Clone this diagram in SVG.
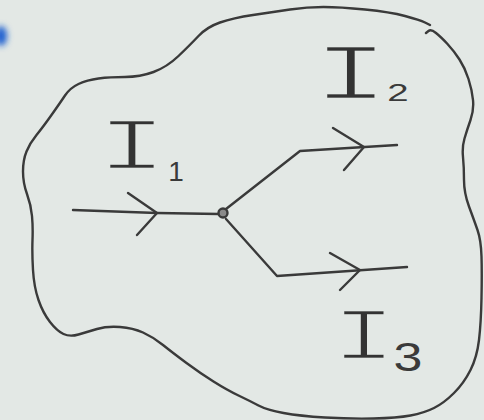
<svg xmlns="http://www.w3.org/2000/svg" width="484" height="420" viewBox="0 0 484 420">
<defs>
<style>
.ink{fill:none;stroke:#3a3a3a;stroke-width:2.4;stroke-linecap:round;stroke-linejoin:round}
.lbl{font-family:"Liberation Mono","DejaVu Sans Mono",monospace;fill:#333;text-anchor:middle;stroke:#e3e8e5;stroke-width:2.6}
.sub{font-family:"Liberation Sans",Arial,sans-serif;fill:#3a3a3a;text-anchor:middle}
</style>
<filter id="blur" x="-1" y="-1" width="3" height="3"><feGaussianBlur stdDeviation="3"/></filter>
</defs>
<rect width="484" height="420" fill="#e3e8e5"/>
<ellipse cx="1" cy="36" rx="6" ry="10" fill="#1a5fd0" filter="url(#blur)"/>
<g id="boundary">
<path class="ink" d="M426,33 L428.5,31 Q431,29 436,33 Q441,37 447.5,44 Q454,51 459.5,59.5 Q465,68 468.5,79 Q472,90 473,100 Q474,110 470.5,120 Q467,130 464.5,138.5 Q462,147 463,157 Q464,167 464,180 Q464,193 469,206.5 Q474,220 477.5,230 Q481,240 481.5,256.5 Q482,273 481.5,298 Q481,323 479,340 Q477,357 470.5,370 Q464,383 454,393 Q444,403 434,408 Q424,413 410.5,415.5 Q397,418 373.5,418.5 Q350,419 325,417.5 Q300,416 283.5,413 Q267,410 258.5,405.5 Q250,401 238.5,395.5 Q227,390 213.5,381.5 Q200,373 186.5,363 Q173,353 163,345 Q153,337 143,332.5 Q133,328 120,327 Q107,326 97,329 Q87,332 78.5,334.5 Q70,337 63.5,334 Q57,331 50,322 Q43,313 38.5,300 Q34,287 33,270 Q32,253 32.5,240 Q33,227 32,216 Q31,205 27,194 Q23,183 23,171.5 Q23,160 26.5,151.5 Q30,143 36.5,135 Q43,127 51.5,115 Q60,103 65,95.5 Q70,88 78.5,84 Q87,80 98.5,78.5 Q110,77 125,77 Q140,77 153.5,72 Q167,67 178.5,56 Q190,45 198.5,36 Q207,27 220,22.5 Q233,18 253,15 Q273,12 290,9.5 Q307,7 323.5,7 Q340,7 365,9.5 Q390,12 405,16 Q420,20 425,22.5 L430,25"/>
</g>
<g id="connectors">
<path class="ink" d="M73,210 L157,213 L219,214"/>
<path class="ink" d="M128,193 L157,213 L137,235"/>
<path class="ink" d="M226,209 L300,151 L397,145"/>
<path class="ink" d="M333,128 L364,147 L344,170"/>
<path class="ink" d="M226,219 L277,276 L407,267"/>
<path class="ink" d="M330,253 L360,270 L340,290"/>
</g>
<g id="junction">
<circle cx="223" cy="213" r="4.5" fill="#8a8a8a" stroke="#3a3a3a" stroke-width="2.4"/>
</g>
<g id="label-I1">
<text class="lbl" transform="translate(132,169) scale(1.6,1)" font-size="74">I</text>
<text class="sub" x="176" y="181" font-size="28">1</text>
</g>
<g id="label-I2">
<text class="lbl" transform="translate(351,99) scale(1.6,1)" font-size="80">I</text>
<text class="sub" transform="translate(398,101) scale(1.6,1)" font-size="24">2</text>
</g>
<g id="label-I3">
<text class="lbl" transform="translate(364,359) scale(1.45,1)" font-size="74">I</text>
<text class="sub" transform="translate(408,371) scale(1.3,1)" font-size="40">3</text>
</g>
</svg>
